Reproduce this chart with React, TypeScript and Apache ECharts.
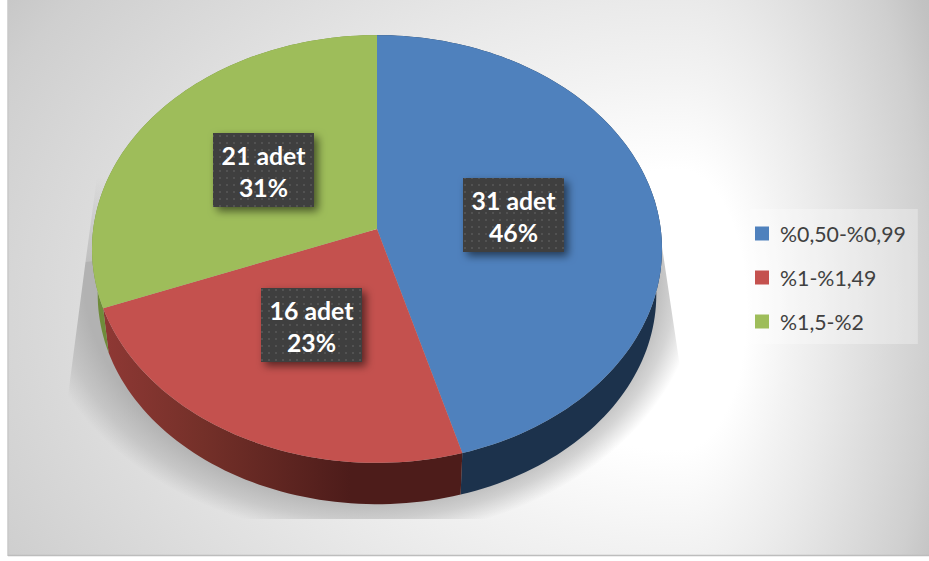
import React, { useEffect, useRef } from "react";
import * as echarts from "echarts";

const categories = ["%0,50-%0,99", "%1-%1,49", "%1,5-%2"];
const counts = [31, 16, 21];
const percents = [46, 23, 31];
const topColors = ["#4F81BD", "#C4514E", "#9EBD5A"];

const W = 929, H = 561;
const CX = 377, APEX_Y = 229, K_Y = 212, K_X = 283.75, PERSP = 0.0935;
const DEPTH_Y = 46, DEPTH_SCALE = 0.98;
const FONT = "Lato, 'Open Sans', sans-serif";

function proj(deg: number, lower = false): number[] {
  const t = (deg * Math.PI) / 180;
  const u = Math.sin(t), v = Math.cos(t);
  const d = 1 + PERSP * v;
  const s = lower ? DEPTH_SCALE : 1;
  return [CX + (s * K_X * u) / d, APEX_Y + (lower ? DEPTH_Y : 0) - (s * K_Y * v) / d];
}
function arc(a: number, b: number, lower = false): number[][] {
  const n = Math.max(2, Math.ceil(Math.abs(b - a) / 1.5));
  const pts: number[][] = [];
  for (let i = 0; i <= n; i++) pts.push(proj(a + ((b - a) * i) / n, lower));
  return pts;
}

const total = counts.reduce((s, c) => s + c, 0);
const starts: number[] = [];
counts.reduce((acc, c, i) => { starts[i] = acc; return acc + c; }, 0);

const sideFill: any[] = [
  "#1C324C",
  { type: "linear", global: true, x: 105, y: 0, x2: 350, y2: 0, colorStops: [{ offset: 0, color: "#8E3834" }, { offset: 0.4, color: "#743029" }, { offset: 1, color: "#4D1C1A" }] },
  "#6F8C3A",
];
const labelBoxes = [[463, 178], [261, 288], [213, 133]];
const BOX_W = 101, BOX_H = 74;

function dotPattern(): any {
  const c = document.createElement("canvas");
  c.width = 7; c.height = 7;
  const g = c.getContext("2d")!;
  g.fillStyle = "#3F3F3F"; g.fillRect(0, 0, 7, 7);
  g.fillStyle = "#525252"; g.fillRect(2, 2, 2, 2);
  return { image: c, repeat: "repeat" };
}

// Background: elliptical glow, wider to the left than to the right of its centre
const BG_X = 680, BG_Y = 310, BG_RX_L = 1000, BG_RX_R = 332, BG_RY = 700;
function bgFill(): any {
  return { type: "radial", global: true, x: 0, y: 0, r: 1, colorStops: [
    { offset: 0, color: "#FFFFFF" }, { offset: 0.2, color: "#FFFFFF" }, { offset: 0.33, color: "#F3F3F3" }, { offset: 0.44, color: "#EAEAEA" },
    { offset: 0.6, color: "#DCDCDC" }, { offset: 0.75, color: "#CFCFCF" }, { offset: 0.85, color: "#C2C2C2" }, { offset: 1, color: "#B8B8B8" }] };
}
function bgRect(x0: number, y0: number, x1: number, y1: number): any[] {
  const mk = (l: number, r: number, rx: number) => ({
    type: "rect", z: 0, silent: true, x: BG_X, y: BG_Y, scaleX: rx, scaleY: BG_RY,
    shape: { x: (l - BG_X) / rx, y: (y0 - BG_Y) / BG_RY, width: (r - l) / rx, height: (y1 - y0) / BG_RY },
    style: { fill: bgFill() },
  });
  return [mk(x0, BG_X + 0.5, BG_RX_L), mk(BG_X, x1, BG_RX_R)];
}

// Ground shadow: wedge plus lower ellipse, softened by an elliptical radial fill
const SH_X = 365, SH_Y = 275, SH_RX = 335, SH_RY = 262;
function shadowShape(): any {
  const pts: number[][] = [[(85.5 - SH_X) / SH_RX, (262 - SH_Y) / SH_RY], [(67.7 - SH_X) / SH_RX, (398 - SH_Y) / SH_RY]];
  for (let d = 200; d <= 340; d += 3) {
    const t = (d * Math.PI) / 180;
    const x = Math.cos(t), y = -Math.sin(t);
    if (x < 0 ? y > 0.47 : y > 0.34) pts.push([x, y]);
  }
  pts.push([(680 - SH_X) / SH_RX, (367 - SH_Y) / SH_RY], [(655 - SH_X) / SH_RX, (200 - SH_Y) / SH_RY]);
  return {
    type: "polygon", z: 0, silent: true, x: SH_X, y: SH_Y, scaleX: SH_RX, scaleY: SH_RY,
    shape: { points: pts },
    style: { fill: { type: "radial", global: true, x: 0, y: 0, r: 1, colorStops: [
      { offset: 0, color: "rgba(178,178,178,1)" }, { offset: 0.84, color: "rgba(178,178,178,1)" }, { offset: 0.93, color: "rgba(178,178,178,0.55)" }, { offset: 1, color: "rgba(178,178,178,0)" }] } },
  };
}

export default function App() {
  const ref = useRef<HTMLDivElement>(null);
  useEffect(() => {
    const chart = echarts.init(ref.current!, null, { renderer: "svg", width: W, height: H });
    const pattern = dotPattern();
    const series: any[] = categories.map((name, idx) => ({
      type: "custom",
      name,
      coordinateSystem: "none",
      silent: true,
      itemStyle: { color: topColors[idx] },
      data: [[counts[idx], starts[idx], percents[idx]]],
      renderItem: (_p: any, api: any) => {
        const a = (api.value(1) / total) * 360;
        const b = ((api.value(1) + api.value(0)) / total) * 360;
        const [bx, by] = labelBoxes[idx];
        return {
          type: "group",
          children: [
            { type: "polygon", z2: 1, shape: { points: [...arc(a, b, true), ...arc(b, a, false)] }, style: { fill: sideFill[idx] } },
            { type: "polygon", z2: 2, shape: { points: [[CX, APEX_Y], ...arc(a, b)] }, style: { fill: topColors[idx] } },
            { type: "rect", z2: 3, shape: { x: bx, y: by, width: BOX_W, height: BOX_H }, style: { fill: "#3F3F3F", shadowBlur: 8, shadowOffsetX: 4, shadowOffsetY: 4, shadowColor: "rgba(0,0,0,0.55)" } },
            { type: "rect", z2: 4, shape: { x: bx, y: by, width: BOX_W, height: BOX_H }, style: { fill: pattern } },
            { type: "text", z2: 5, style: { x: bx + BOX_W / 2, y: by + 22, text: `${api.value(0)} adet`, fill: "#FFFFFF", font: `bold 24.8px ${FONT}`, align: "center", verticalAlign: "middle" } },
            { type: "text", z2: 5, style: { x: bx + BOX_W / 2, y: by + 54, text: `${api.value(2)}%`, fill: "#FFFFFF", font: `bold 24.8px ${FONT}`, align: "center", verticalAlign: "middle" } },
          ],
        };
      },
    }));
    chart.setOption({
      animation: false,
      legend: {
        data: categories,
        orient: "vertical",
        left: 750, top: 209,
        padding: [14, 12, 12, 5],
        backgroundColor: "rgba(255,255,255,0.3)",
        icon: "rect",
        itemWidth: 14, itemHeight: 14, itemGap: 23,
        textStyle: { color: "#404040", fontFamily: FONT, fontSize: 21.3, padding: [0, 0, 0, 6] },
        selectedMode: false,
      },
      graphic: [
        ...bgRect(8, 0, 929, 556),
        // upper tip of the left wedge, fading out towards the top
        { type: "polygon", z: 0, silent: true, shape: { points: [[97, 177], [85.5, 262], [130, 262], [130, 177]] },
          style: { fill: { type: "linear", global: true, x: 0, y: 177, x2: 0, y2: 262, colorStops: [{ offset: 0, color: "rgba(178,178,178,0)" }, { offset: 1, color: "rgba(178,178,178,0.7)" }] } } },
        shadowShape(),
        ...bgRect(8, 519, 929, 556),
        { type: "line", z: 0, silent: true, shape: { x1: 8, y1: 0, x2: 8, y2: 556 }, style: { stroke: "#C9C9C9", lineWidth: 1.5 } },
        { type: "line", z: 0, silent: true, shape: { x1: 8, y1: 555.5, x2: 929, y2: 555.5 }, style: { stroke: "#BDBDBD", lineWidth: 1.5 } },
      ],
      series,
    });
    return () => chart.dispose();
  }, []);
  return <div ref={ref} style={{ position: "absolute", left: 0, top: 0, width: W, height: H, background: "#fff" }} />;
}
